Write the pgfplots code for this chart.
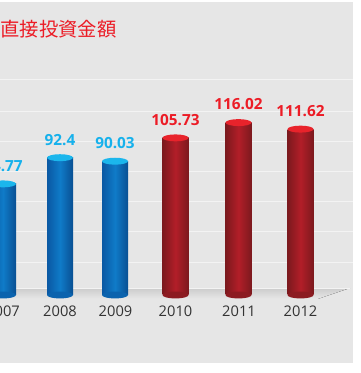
\documentclass[border=0pt]{standalone}
\usepackage{pgfplots}
\usepackage{pgfplotstable}
\pgfplotsset{compat=1.18}
\usepackage{fontspec}
\setmainfont{Open Sans}
\newfontfamily\cjk{Noto Sans CJK JP}
\definecolor{bg}{HTML}{E6E6E6}
\definecolor{gridc}{HTML}{F3F3F3}
\definecolor{labelblue}{HTML}{16B1EC}
\definecolor{labelred}{HTML}{EC1C26}
\definecolor{bluedark}{HTML}{0A58A3}
\definecolor{bluemid}{HTML}{0F7BC8}
\definecolor{bluetop}{HTML}{1BB6EC}
\definecolor{reddark}{HTML}{7C191E}
\definecolor{redmid}{HTML}{B21E28}
\definecolor{redtop}{HTML}{E8232B}
\definecolor{floortop}{HTML}{CCCCCC}
\definecolor{yeartext}{HTML}{333333}
\pgfdeclareplotmark{cyl}{\pgfpathellipse{\pgfpointorigin}{\pgfqpoint{9.75pt}{0pt}}{\pgfqpoint{0pt}{2.6pt}}\pgfusepathqfill}
\pgfplotstableread{
x y
3 74.77
60 92.4
115 90.03
}\bluedata
\pgfplotstableread{
x y
175.5 105.73
238.5 116.02
300.5 111.62
}\reddata
\begin{document}
\begin{tikzpicture}
\fill[white] (0,0) rectangle (270pt,279.75pt);
\begin{axis}[at={(0pt,7.5pt)}, anchor=south west,
  width=264.75pt, height=270.75pt, scale only axis,
  xmin=0, xmax=353, ymin=-45.76, ymax=197.17,
  axis background/.style={fill=bg},
  axis line style={draw=none}, tick style={draw=none},
  ytick={22.2,42.4,62.6,82.8,103.6,123.8,144.7}, yticklabels={},
  ymajorgrids, grid style={gridc, line width=0.75pt},
  xtick={3,60,115.5,175.5,239,300.5},
  xticklabels={2007,2008,2009,2010,2011,2012},
  xticklabel style={anchor=base, yshift=34.5pt, text=yeartext, font=\fontsize{11pt}{12pt}\selectfont},
  /pgf/number format/assume math mode=true,
  /pgf/number format/1000 sep={},
  bluebar/.style={ybar, bar width=26, bar shift=0pt, draw=none, left color=bluedark, right color=bluedark!90!black, middle color=bluemid,
    nodes near coords, nodes near coords style={anchor=base, inner sep=0pt, yshift=9.5pt, text=labelblue, font=\bfseries\fontsize{11.5pt}{12pt}\selectfont}},
  redbar/.style={ybar, bar width=26, bar shift=0pt, draw=none, left color=reddark, right color=reddark, middle color=redmid,
    nodes near coords, nodes near coords style={anchor=base, inner sep=0pt, yshift=9.5pt, text=labelred, font=\bfseries\fontsize{11.5pt}{12pt}\selectfont}},
]
\fill[top color=floortop, bottom color=bg!96!white] (axis cs:0,4.7) -- (axis cs:350,4.7) -- (axis cs:318,-2.6) -- (axis cs:0,-2.6) -- cycle;
\draw[gridc, line width=0.6pt] (axis cs:0,4.7) -- (axis cs:350,4.7);
\node[anchor=west, inner sep=0, text=labelred, font=\cjk\fontsize{14.5pt}{15pt}\selectfont] at (axis cs:0.3,179) {直接投資金額};
% bottom ellipses
\addplot[only marks, mark=cyl, mark options={fill=bluedark!70!bluemid, draw=none}] table[x=x, y expr=0] {\bluedata};
\addplot[only marks, mark=cyl, mark options={fill=reddark!70!redmid, draw=none}] table[x=x, y expr=0] {\reddata};
% bars, one plot per bar so that each cylinder is shaded on its own
\addplot[bluebar, restrict x to domain=0:20] table[x=x, y=y] {\bluedata};
\addplot[bluebar, restrict x to domain=50:70] table[x=x, y=y] {\bluedata};
\addplot[bluebar, restrict x to domain=100:130] table[x=x, y=y] {\bluedata};
\addplot[redbar, restrict x to domain=160:190] table[x=x, y=y] {\reddata};
\addplot[redbar, restrict x to domain=220:250] table[x=x, y=y] {\reddata};
\addplot[redbar, restrict x to domain=290:310] table[x=x, y=y] {\reddata};
% top ellipses
\addplot[only marks, mark=cyl, mark options={fill=bluetop, draw=none}] table[x=x, y=y] {\bluedata};
\addplot[only marks, mark=cyl, mark options={fill=redtop, draw=none}] table[x=x, y=y] {\reddata};
\end{axis}
\pgfresetboundingbox
\useasboundingbox (0,0) rectangle (270pt,279.75pt);
\end{tikzpicture}
\end{document}
